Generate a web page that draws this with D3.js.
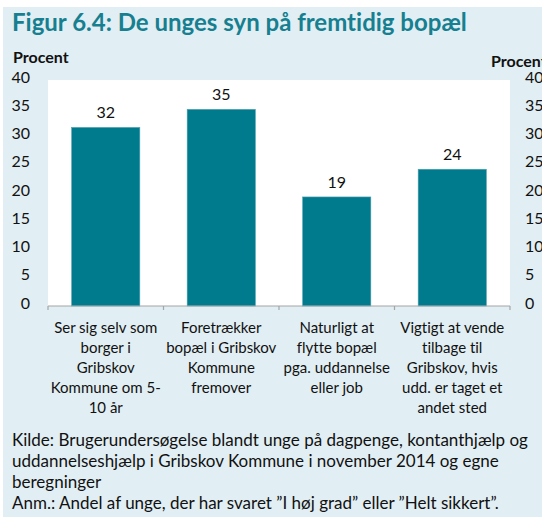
<!DOCTYPE html>
<html>
<head>
<meta charset="utf-8">
<script src="https://cdn.jsdelivr.net/npm/d3@7"></script>
<style>
  body { margin: 0; background: #fff; }
  text, tspan {
    font-family: Lato, "Open Sans", sans-serif;
    font-variant-ligatures: none;
    font-feature-settings: "liga" 0, "clig" 0, "dlig" 0, "calt" 0;
  }
</style>
</head>
<body>
<script>
// chart data
var categories = [
  ["Ser sig selv som", "borger i", "Gribskov", "Kommune om 5-", "10 år"],
  ["Foretrækker", "bopæl i Gribskov", "Kommune", "fremover"],
  ["Naturligt at", "flytte bopæl", "pga. uddannelse", "eller job"],
  ["Vigtigt at vende", "tilbage til", "Gribskov, hvis", "udd. er taget et", "andet sted"]
];
var values = [31.6, 34.8, 19.3, 24.2];
var yTicks = [0, 5, 10, 15, 20, 25, 30, 35, 40];
var footer = [
  "Kilde: Brugerundersøgelse blandt unge på dagpenge, kontanthjælp og",
  "uddannelseshjælp i Gribskov Kommune i november 2014 og egne",
  "beregninger",
  "Anm.: Andel af unge, der har svaret ”I høj grad” eller ”Helt sikkert”."
];

var width = 542, height = 517;
var plot = { left: 48, right: 510, top: 80, bottom: 306 };

var svg = d3.select("body").append("svg")
  .attr("width", width)
  .attr("height", height);

// panel background
svg.append("rect")
  .attr("x", 3).attr("y", 7)
  .attr("width", width - 3).attr("height", height - 7)
  .attr("fill", "#e1eef3");

svg.append("text")
  .attr("x", 12).attr("y", 31)
  .attr("fill", "#167f90")
  .style("font-size", "24px")
  .style("font-weight", "bold")
  .text("Figur 6.4: De unges syn på fremtidig bopæl");

// plot area
svg.append("rect")
  .attr("x", plot.left).attr("y", plot.top)
  .attr("width", plot.right - plot.left).attr("height", plot.bottom - plot.top)
  .attr("fill", "#ffffff");

var x = d3.scaleBand()
  .domain(d3.range(categories.length))
  .range([plot.left, plot.right])
  .paddingInner(0.41)
  .paddingOuter(0.205);

var y = d3.scaleLinear()
  .domain([0, 40])
  .range([plot.bottom, plot.top]);

// bars
svg.selectAll("rect.bar")
  .data(values)
  .enter()
  .append("rect")
  .attr("class", "bar")
  .attr("x", (d, i) => x(i))
  .attr("y", d => y(d))
  .attr("width", x.bandwidth())
  .attr("height", d => y(0) - y(d))
  .attr("fill", "#007a8d")
  .attr("stroke", "#4a9fae")
  .attr("stroke-width", 0.6);

// value labels
svg.selectAll("text.val")
  .data(values)
  .enter()
  .append("text")
  .attr("class", "val")
  .attr("x", (d, i) => x(i) + x.bandwidth() / 2)
  .attr("y", d => y(d) - 9)
  .attr("text-anchor", "middle")
  .style("font-size", "16px")
  .attr("fill", "#111")
  .text(d => d3.format(".0f")(d));

// x axis line and ticks
var step = x.step();
var xa = svg.append("g").attr("stroke", "#a6a6a6").attr("stroke-width", 1.2);
xa.append("line")
  .attr("x1", plot.left).attr("x2", plot.right)
  .attr("y1", plot.bottom).attr("y2", plot.bottom);
xa.selectAll("line.tick")
  .data(d3.range(categories.length + 1))
  .enter()
  .append("line")
  .attr("class", "tick")
  .attr("x1", i => plot.left + i * step)
  .attr("x2", i => plot.left + i * step)
  .attr("y1", plot.bottom).attr("y2", plot.bottom + 4);

// category labels
svg.selectAll("text.cat")
  .data(categories)
  .enter()
  .append("text")
  .attr("class", "cat")
  .attr("text-anchor", "middle")
  .style("font-size", "15px")
  .attr("fill", "#111")
  .each(function(lines, i) {
    d3.select(this).selectAll("tspan")
      .data(lines)
      .enter()
      .append("tspan")
      .attr("x", x(i) + x.bandwidth() / 2)
      .attr("y", (l, j) => 333 + j * 20)
      .text(l => l);
  });

// y axes (left and right)
var yAxisL = d3.axisLeft(y).tickValues(yTicks).tickSize(0).tickPadding(0);
var gl = svg.append("g")
  .attr("transform", "translate(30,-3)")
  .call(yAxisL);
var yAxisR = d3.axisRight(y).tickValues(yTicks).tickSize(0).tickPadding(0);
var gr = svg.append("g")
  .attr("transform", "translate(525,-3)")
  .call(yAxisR);
[gl, gr].forEach(function(g) {
  g.select(".domain").remove();
  g.selectAll("text")
    .style("font-family", "Lato, sans-serif")
    .style("font-size", "16px")
    .attr("fill", "#111");
});

svg.append("text")
  .attr("x", 13).attr("y", 63)
  .style("font-size", "16px")
  .style("font-weight", "bold")
  .attr("fill", "#111")
  .text("Procent");
svg.append("text")
  .attr("x", 491).attr("y", 67)
  .style("font-size", "16px")
  .style("font-weight", "bold")
  .attr("fill", "#111")
  .text("Procent");

// footer notes
svg.append("text")
  .style("font-size", "17px")
  .attr("fill", "#111")
  .selectAll("tspan")
  .data(footer)
  .enter()
  .append("tspan")
  .attr("x", 12)
  .attr("y", (d, i) => [446, 467, 488, 509][i])
  .text(d => d);
</script>
</body>
</html>
